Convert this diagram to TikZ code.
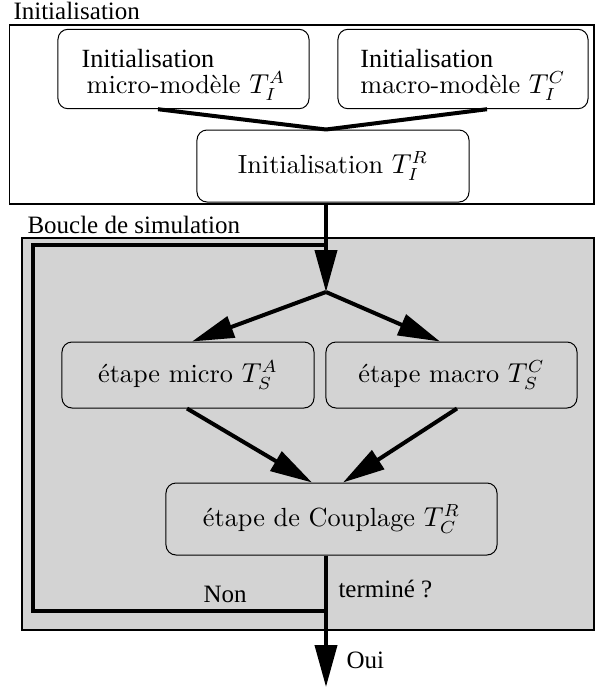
\documentclass[tikz,border=0pt]{standalone}
\usepackage{fontspec}
\usetikzlibrary{arrows.meta, calc, positioning}
\newfontfamily\labelfont{Liberation Serif}
\definecolor{loopgray}{HTML}{D3D3D3}

\begin{document}
\begin{tikzpicture}[
      x=0.4pt, y=-0.4pt,
      block/.style={
        draw=black,
        rounded corners=4pt,
        align=center,
        font=\fontsize{10.5}{10.4}\selectfont,
      },
      wire/.style={line width=1.6pt},
      flow/.style={line width=1.6pt, -{Triangle[length=16.8pt,width=8.8pt]}},
      lbl/.style={font=\labelfont\fontsize{10}{12}\selectfont, inner sep=0pt, anchor=base west},
      ]
      \useasboundingbox (0,0) rectangle (597,688);
      % frames
      \draw[line width=0.5pt] (9.5,25) rectangle (594,204);
      \draw[line width=0.5pt, fill=loopgray] (22,238) rectangle (594,630);
      \node[lbl] (inittitle) at (13,19) {Initialisation};
      \node[lbl] (looptitle) at (27,233) {Boucle de simulation};
      % initialisation
      \node[block, align=left, minimum width=100.4pt, minimum height=29.6pt] (microI) at (183.5,69) {\rule{0pt}{12pt}{\labelfont Initialisation}\\ \hspace{2pt}micro-modèle $T_I^A$};
      \node[block, align=left, minimum width=100pt, minimum height=29.6pt] (macroI) at (463,69) {\rule{0pt}{12pt}{\labelfont Initialisation}\\ macro-modèle $T_I^C$};
      \node[block, minimum width=108.8pt, minimum height=28.8pt] (initR) at (333,166) {Initialisation $T_I^R$};
      \coordinate (split) at (326,292);
      \draw[wire] ($(microI.south)+(-25.5,0)$) -- (initR.north -| split);
      \draw[wire] ($(macroI.south)+(24,0)$) -- (initR.north -| split);
      % simulation loop
      \coordinate (merge) at (326,245);
      \node[block, fill=loopgray, minimum width=100.8pt, minimum height=26.4pt] (stepA) at (188,375) {étape micro $T_S^A$};
      \node[block, fill=loopgray, minimum width=100.4pt, minimum height=26.4pt] (stepC) at (451.5,375) {étape macro $T_S^C$};
      \node[block, fill=loopgray, minimum width=132.4pt, minimum height=28.8pt] (coupl) at (331.5,519) {étape de Couplage $T_C^R$};
      \coordinate (fork) at (326,611);
      \coordinate (out) at (326,687);
      \draw[flow] (initR.south -| split) -- (split);
      \draw[flow] (split) -- ($(stepA.north)+(4,0)$);
      \draw[flow] (split) -- ($(stepC.north)+(-11.5,0)$);
      \draw[flow] ($(stepA.south)+(-1,0)$) -- ($(coupl.north)+(-19.5,0)$);
      \draw[flow] ($(stepC.south)+(5.5,0)$) -- ($(coupl.north)+(11.5,0)$);
      \draw[wire] (coupl.south -| fork) -- (fork);
      \draw[wire] (fork) -| (33,245) -- (merge);
      \draw[flow] (fork) -- (out);
      \node[lbl] (non) at (203,602) {Non};
      \node[lbl] (fin) at (338,597) {terminé ?};
      \node[lbl] (oui) at (346,668) {Oui};
    \end{tikzpicture}
\end{document}
